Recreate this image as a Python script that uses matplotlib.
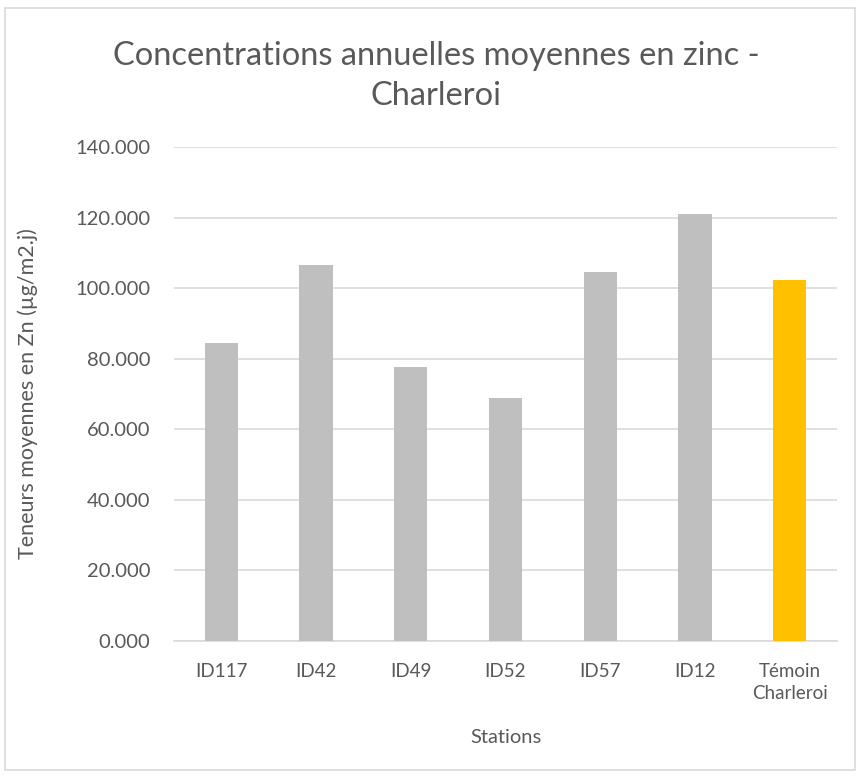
import matplotlib
matplotlib.use("Agg")
import matplotlib.pyplot as plt
from matplotlib.patches import Rectangle

stations = ["ID117", "ID42", "ID49", "ID52", "ID57", "ID12", "Témoin\nCharleroi"]
values = [84.4, 106.5, 77.6, 68.9, 104.5, 120.9, 102.3]
colors = ["#BFBFBF"] * 6 + ["#FFC000"]
yticks = [0, 20, 40, 60, 80, 100, 120, 140]

plt.rcParams['font.family'] = ['Lato', 'DejaVu Sans']
txt = "#595959"

fig = plt.figure(figsize=(8.58, 7.76), dpi=100)
ax = fig.add_axes([174/858, 1-641/776, (837-174)/858, (641-147)/776])

x = range(len(stations))
ax.bar(x, values, width=0.35, color=colors, zorder=3)
ax.set_xlim(-0.5, len(stations) - 0.5)
ax.set_ylim(0, 140)
ax.set_yticks(yticks)
ax.set_yticklabels([f"{v:.3f}" for v in yticks], color=txt, fontsize=14.5)
ax.set_xticks(list(x))
ax.set_xticklabels(stations, color=txt, fontsize=13.5, linespacing=1.35)
ax.grid(axis='y', color="#D9D9D9", linewidth=1.2, zorder=0)
ax.tick_params(axis='y', length=0, pad=17)
ax.tick_params(axis='x', length=0, pad=16)
for s in ["top", "right", "left"]:
    ax.spines[s].set_visible(False)
ax.spines["bottom"].set_color("#D9D9D9")
ax.spines["bottom"].set_linewidth(1.2)

ax.set_ylabel("Teneurs moyennes en Zn (µg/m2.j)", color=txt, fontsize=15.5, labelpad=8)
ax.set_xlabel("Stations", color=txt, fontsize=14.5, labelpad=19)
ax.yaxis.set_label_coords(-0.205, 0.5)

fig.text(0.508, 1-76/776, "Concentrations annuelles moyennes en zinc -\nCharleroi",
         ha="center", va="center", fontsize=23.5, color=txt, linespacing=1.45)

fig.patches.append(Rectangle((5/858, 6/776), 850/858, 762/776, transform=fig.transFigure,
                             fill=False, edgecolor="#D9D9D9", linewidth=1.2))

fig.savefig("out.png", dpi=100, facecolor="white")
